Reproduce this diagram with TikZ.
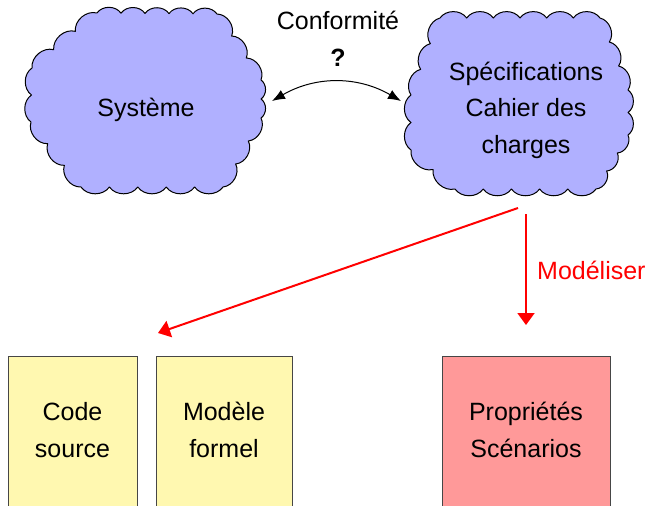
\documentclass[tikz,border=0pt]{standalone}
\usepackage{fontspec}
\setmainfont{Liberation Sans}
\usetikzlibrary{calc,arrows.meta}
\definecolor{cloudblue}{RGB}{176,176,255}
\definecolor{boxyellow}{RGB}{255,248,176}
\definecolor{boxpink}{RGB}{255,153,153}
\definecolor{boxline}{RGB}{70,70,70}
\tikzset{
  cloudpath/.style={draw=black, line width=1pt, fill=cloudblue, line join=round},
  bump/.style={bend left=55},
  txt/.style={align=center, font=\fontsize{25}{36.5}\selectfont, inner sep=0pt},
  boxnode/.style={draw=boxline, line width=0.8pt, fill=#1, rectangle, minimum height=170pt, inner sep=0pt},
  redarrow/.style={draw=red, line width=2pt, -{Triangle[width=17pt,length=12pt]}},
}
\begin{document}
\begin{tikzpicture}[x=1pt,y=-1pt]
\useasboundingbox (0,0) rectangle (651,506);
\clip (0,0) rectangle (651,506);
% cloud vertices
\coordinate (a1) at (97,13);
\coordinate (a2) at (217,14);
\coordinate (a3) at (261,80);
\coordinate (a4) at (261,118);
\coordinate (a5) at (223,187);
\coordinate (a6) at (81,187);
\coordinate (a7) at (31,122);
\coordinate (a8) at (32,68);
\coordinate (b1) at (440,18);
\coordinate (b2) at (600,18);
\coordinate (b3) at (628,90);
\coordinate (b4) at (628,135);
\coordinate (b5) at (596,189);
\coordinate (b6) at (455,189);
\coordinate (b7) at (411,150);
\coordinate (b8) at (411,95);
% clouds
\path[cloudpath] (a1)
  foreach \p/\q/\n in {a1/a2/5, a2/a3/3, a3/a4/2, a4/a5/3, a5/a6/5, a6/a7/3, a7/a8/2, a8/a1/3}
  { foreach \i in {1,...,\n} { to[bump] ($(\p)!\i/\n!(\q)$) } } -- cycle;
\node[txt] (syst) at (146,110) {Système};
\path[cloudpath] (b1)
  foreach \p/\q/\n in {b1/b2/6, b2/b3/3, b3/b4/2, b4/b5/3, b5/b6/5, b6/b7/2, b7/b8/2, b8/b1/3}
  { foreach \i in {1,...,\n} { to[bump] ($(\p)!\i/\n!(\q)$) } } -- cycle;
\node[txt] (spect) at (526,110) {Spécifications\\Cahier des\\charges};
% conformity
\node[txt] (conf) at (338,39) {Conformité\\\textbf{?}};
\coordinate (ca) at (272,101);
\coordinate (cb) at (401,101);
\draw[line width=1pt, {Latex[length=13pt,width=10pt]}-{Latex[length=13pt,width=10pt]}] (ca) to[bend left=30] (cb);
% boxes
\node[boxnode=boxyellow, minimum width=129pt] (code) at (72.5,441) {};
\node[txt] (codet) at (72.5,430) {Code\\source};
\node[boxnode=boxyellow, minimum width=136pt] (mod) at (224,441) {};
\node[txt] (modt) at (224,430) {Modèle\\formel};
\node[boxnode=boxpink, minimum width=168pt] (prop) at (526,441) {};
\node[txt] (propt) at (526,430) {Propriétés\\Scénarios};
% red arrows
\coordinate (m1) at (518,208);
\coordinate (t1) at (158,333);
\coordinate (m2) at (526,214);
\coordinate (t2) at (526,325);
\draw[redarrow] (m1) -- (t1);
\draw[redarrow] (m2) -- (t2);
\node[txt, text=red, anchor=west] (modl) at (537,270) {Modéliser};
\end{tikzpicture}
\end{document}
